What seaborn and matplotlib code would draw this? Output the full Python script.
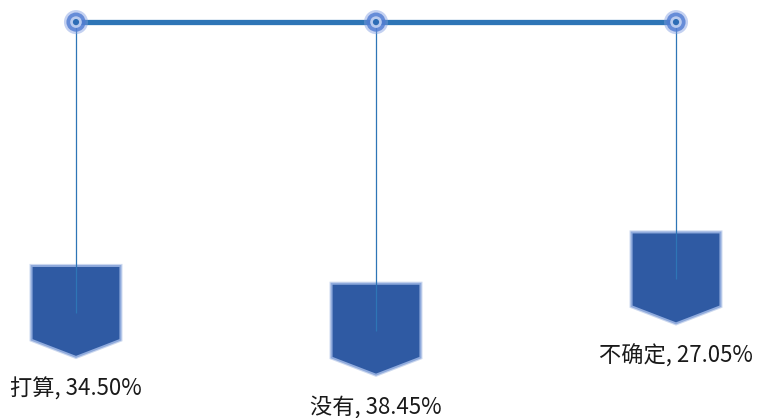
import matplotlib
matplotlib.use("Agg")
import matplotlib.pyplot as plt
from matplotlib.patches import Polygon
import seaborn as sns
import pandas as pd

# ---- data ----
categories = ["打算", "没有", "不确定"]
values = [34.50, 38.45, 27.05]
labels = [f"{c}, {v:.2f}%" for c, v in zip(categories, values)]

sns.set_theme(style="white")
plt.rcParams["font.family"] = ["Noto Sans CJK SC", "DejaVu Sans"]

df = pd.DataFrame({"pos": range(len(categories)), "cat": categories, "val": values})

# layout constants (data units)
BAR_Y = -19.7
LINE_EXT = 10.4
BODY_H = 16.4
TIP_H = 3.8
HALF_W = 0.148
LABEL_OFF = 7.2

fig = plt.figure(figsize=(7.58, 4.18), dpi=100)
ax = fig.add_axes([0, 0, 1, 1])
ax.set_xlim(-0.2533, 2.2733)
ax.set_ylim(68.28, -24.61)
ax.axis("off")

blue = "#2E75B6"
fill = "#2F5AA3"
edge = "#8FAADC"

# top bar
sns.lineplot(x=[df["pos"].min(), df["pos"].max()], y=[BAR_Y, BAR_Y], ax=ax,
             color=blue, linewidth=3.8, zorder=2)

# hanging lines
ax.vlines(df["pos"], BAR_Y, df["val"] + LINE_EXT, color=blue, linewidth=0.9, zorder=4)

# tags
for p, v in zip(df["pos"], df["val"]):
    pts = [(p - HALF_W, v), (p + HALF_W, v), (p + HALF_W, v + BODY_H),
           (p, v + BODY_H + TIP_H), (p - HALF_W, v + BODY_H)]
    ax.add_patch(Polygon(pts, closed=True, facecolor="none", edgecolor=edge,
                         linewidth=3.0, alpha=0.45, zorder=3, joinstyle="miter"))
    ax.add_patch(Polygon(pts, closed=True, facecolor=fill, edgecolor=edge,
                         linewidth=1.4, zorder=3, joinstyle="miter"))

# nodes with glow
ybar = [BAR_Y] * len(df)
sns.scatterplot(x=df["pos"], y=ybar, ax=ax, s=300, color="#7C9BE0", alpha=0.45,
                edgecolor="none", zorder=5, legend=False)
sns.scatterplot(x=df["pos"], y=ybar, ax=ax, s=190, color="#4F7BD2", alpha=0.8,
                edgecolor="none", zorder=6, legend=False)
sns.scatterplot(x=df["pos"], y=ybar, ax=ax, s=70, color="#B9CBEF",
                edgecolor="none", zorder=7, legend=False)
sns.scatterplot(x=df["pos"], y=ybar, ax=ax, s=20, color="#2E6DB6",
                edgecolor="none", zorder=8, legend=False)

# labels
for p, v, lab in zip(df["pos"], df["val"], labels):
    ax.text(p, v + BODY_H + TIP_H + LABEL_OFF, lab, ha="center", va="center",
            fontsize=16, color="#1a1a1a")

fig.savefig("out.png", dpi=100)
